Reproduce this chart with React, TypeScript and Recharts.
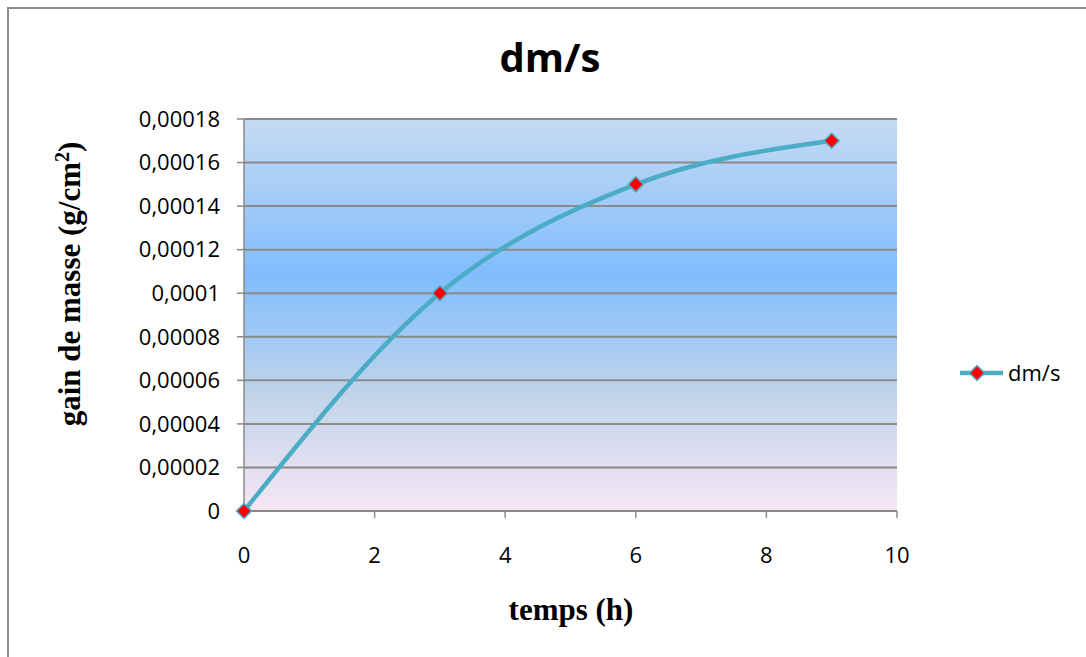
import { LineChart, Line, XAxis, YAxis, CartesianGrid, Legend } from 'recharts';

// Mass gain over time
const hours = [0, 3, 6, 9];
const massGain = [0, 0.0001, 0.00015, 0.00017];
const seriesName = 'dm/s';

const xTicks = [0, 2, 4, 6, 8, 10];
const yTicks = [0, 0.00002, 0.00004, 0.00006, 0.00008, 0.0001, 0.00012, 0.00014, 0.00016, 0.00018];
const yTickLabels = ['0', '0,00002', '0,00004', '0,00006', '0,00008', '0,0001', '0,00012', '0,00014', '0,00016', '0,00018'];

const data = hours.map((h, i) => ({ t: h, gain: massGain[i] }));

const LINE = '#4bacc6';
const GRID = '#8a8a8a';
const SANS = '"Open Sans", "Noto Sans", sans-serif';
const SERIF = '"Liberation Serif", "DejaVu Serif", serif';
const LEGEND_W = 120;

function Diamond(props: any) {
  const { cx, cy } = props;
  if (cx == null || cy == null) return null;
  const r = 7.5;
  return (
    <polygon
      points={`${cx},${cy - r} ${cx + r},${cy} ${cx},${cy + r} ${cx - r},${cy}`}
      fill="#ff0000"
      stroke={LINE}
      strokeWidth={1.5}
    />
  );
}

function LegendBox() {
  return (
    <svg width={LEGEND_W} height={30}>
      <line x1={2} y1={15} x2={45} y2={15} stroke={LINE} strokeWidth={4.5} />
      <Diamond cx={19} cy={15} />
      <text x={50} y={23} fontSize={22} fontFamily={SANS} fill="#000">
        {seriesName}
      </text>
    </svg>
  );
}

export default function App() {
  return (
    <div style={{ position: 'absolute', left: 0, top: 0, width: 1086, height: 657, overflow: 'hidden', background: '#fff' }}>
      <div
        style={{
          position: 'absolute',
          left: 7,
          top: 7,
          width: 1200,
          height: 800,
          border: '2px solid #8c8c8c',
        }}
      />
      <div style={{ position: 'absolute', left: 0, top: 0 }}>
        {/* legend width is taken off the plot, so right margin leaves room for it */}
        <LineChart width={1086} height={657} data={data} margin={{ top: 119, right: 189 - LEGEND_W, bottom: 106, left: 0 }}>
          <defs>
            <linearGradient id="plotBg" x1="0" y1="0" x2="0" y2="1">
              <stop offset="0%" stopColor="#c6daf2" />
              <stop offset="40%" stopColor="#80bdfd" />
              <stop offset="70%" stopColor="#c0d4ea" />
              <stop offset="100%" stopColor="#f6e6f4" />
            </linearGradient>
          </defs>
          <text x={550} y={72} textAnchor="middle" fontSize={40} fontWeight="bold" fontFamily={SANS} fill="#000">
            dm/s
          </text>
          <CartesianGrid vertical={false} stroke={GRID} strokeWidth={2} fill="url(#plotBg)" />
          <XAxis
            dataKey="t"
            type="number"
            domain={[0, 10]}
            ticks={xTicks}
            height={40}
            axisLine={{ stroke: GRID, strokeWidth: 1.5 }}
            tickLine={{ stroke: GRID, strokeWidth: 1.5 }}
            tickSize={7}
            tickMargin={29}
            tick={{ fontSize: 22, fill: '#000', fontFamily: SANS }}
            label={{
              content: () => (
                <text x={571} y={620} textAnchor="middle" fontSize={31} fontWeight="bold" fontFamily={SERIF} fill="#000">
                  temps (h)
                </text>
              ),
            }}
          />
          <YAxis
            type="number"
            domain={[0, 0.00018]}
            ticks={yTicks}
            width={244}
            interval={0}
            axisLine={{ stroke: GRID, strokeWidth: 1.5 }}
            tickLine={{ stroke: GRID, strokeWidth: 1.5 }}
            tickSize={7}
            tickMargin={17}
            tickFormatter={(v: number) => yTickLabels[yTicks.indexOf(v)] ?? String(v)}
            tick={{ fontSize: 22, fill: '#000', fontFamily: SANS }}
            label={{
              content: () => (
                <text
                  x={0}
                  y={0}
                  transform="translate(80, 284) rotate(-90)"
                  textAnchor="middle"
                  fontSize={31}
                  fontWeight="bold"
                  fontFamily={SERIF}
                  fill="#000"
                >
                  gain de masse (g/cm
                  <tspan dy={-11} fontSize={20}>2</tspan>
                  <tspan dy={11}>)</tspan>
                </text>
              ),
            }}
          />
          <Legend
            layout="horizontal"
            align="right"
            verticalAlign="middle"
            wrapperStyle={{ left: 958, top: 358, width: LEGEND_W }}
            content={() => <LegendBox />}
          />
          <Line
            type="monotone"
            dataKey="gain"
            name={seriesName}
            stroke={LINE}
            strokeWidth={4.5}
            dot={<Diamond />}
            activeDot={false}
            isAnimationActive={false}
          />
        </LineChart>
      </div>
    </div>
  );
}
